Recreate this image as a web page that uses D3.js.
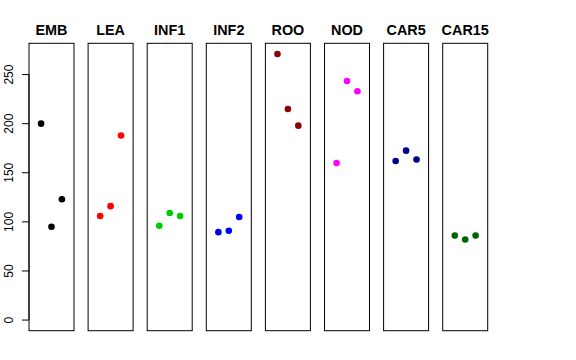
<!DOCTYPE html>
<html><head><meta charset="utf-8">
<script src="https://cdn.jsdelivr.net/npm/d3@7"></script>
<style>body{margin:0;background:#fff}svg{display:block}</style>
</head><body>
<script>
const categories = ["EMB","LEA","INF1","INF2","ROO","NOD","CAR5","CAR15"];
const colors = ["#000000","#FF0000","#00CD00","#0000FF","#8B0000","#FF00FF","#00008B","#006400"];
const positions = [2,3,4];
const EMB = [200,95,123];
const LEA = [106,116,188];
const INF1 = [96,109,106];
const INF2 = [89.5,91,105];
const ROO = [271,215,198];
const NOD = [160,243.5,233];
const CAR5 = [162,172.5,163.5];
const CAR15 = [86,82,86];
const seriesValues = [EMB,LEA,INF1,INF2,ROO,NOD,CAR5,CAR15];
const yTicks = [0,50,100,150,200,250];

(function(){
const W=576,H=360;
const svg=d3.select("body").append("svg").attr("width",W).attr("height",H);
const plotTop=43.3,plotBottom=330.7;
const y=d3.scaleLinear().domain([-10.84,281.84]).range([plotBottom,plotTop]);
const panelX=d3.scaleLinear().domain([0,1]).range([29,88.1]);
const pw=45;

const ax=svg.append("g").attr("transform","translate(29,0)");
ax.append("line").attr("x1",0).attr("x2",0).attr("y1",y(0)).attr("y2",y(250)).attr("stroke","#000");
yTicks.forEach(t=>{
  ax.append("line").attr("x1",-7).attr("x2",0).attr("y1",y(t)).attr("y2",y(t)).attr("stroke","#000");
  ax.append("text").attr("transform",`translate(-16,${y(t)}) rotate(-90)`)
    .attr("text-anchor","middle").attr("font-family","Liberation Sans, Arial, sans-serif")
    .attr("font-size","12px").text(t);
});

categories.forEach((c,i)=>{
  const x0=panelX(i);
  const x=d3.scaleLinear().domain([0.84,5.16]).range([x0,x0+pw]);
  const g=svg.append("g");
  g.append("rect").attr("x",x0).attr("y",plotTop).attr("width",pw).attr("height",plotBottom-plotTop)
    .attr("fill","none").attr("stroke","#000").attr("stroke-width",1);
  g.append("text").attr("x",x0+pw/2).attr("y",34.5).attr("text-anchor","middle")
    .attr("font-family","Liberation Sans, Arial, sans-serif").attr("font-weight","bold")
    .attr("font-size","14.4px").text(c);
  g.selectAll("circle").data(seriesValues[i]).join("circle")
    .attr("cx",(d,j)=>x(positions[j])).attr("cy",d=>y(d)).attr("r",3.3).attr("fill",colors[i]);
});
})();
</script>
</body></html>
